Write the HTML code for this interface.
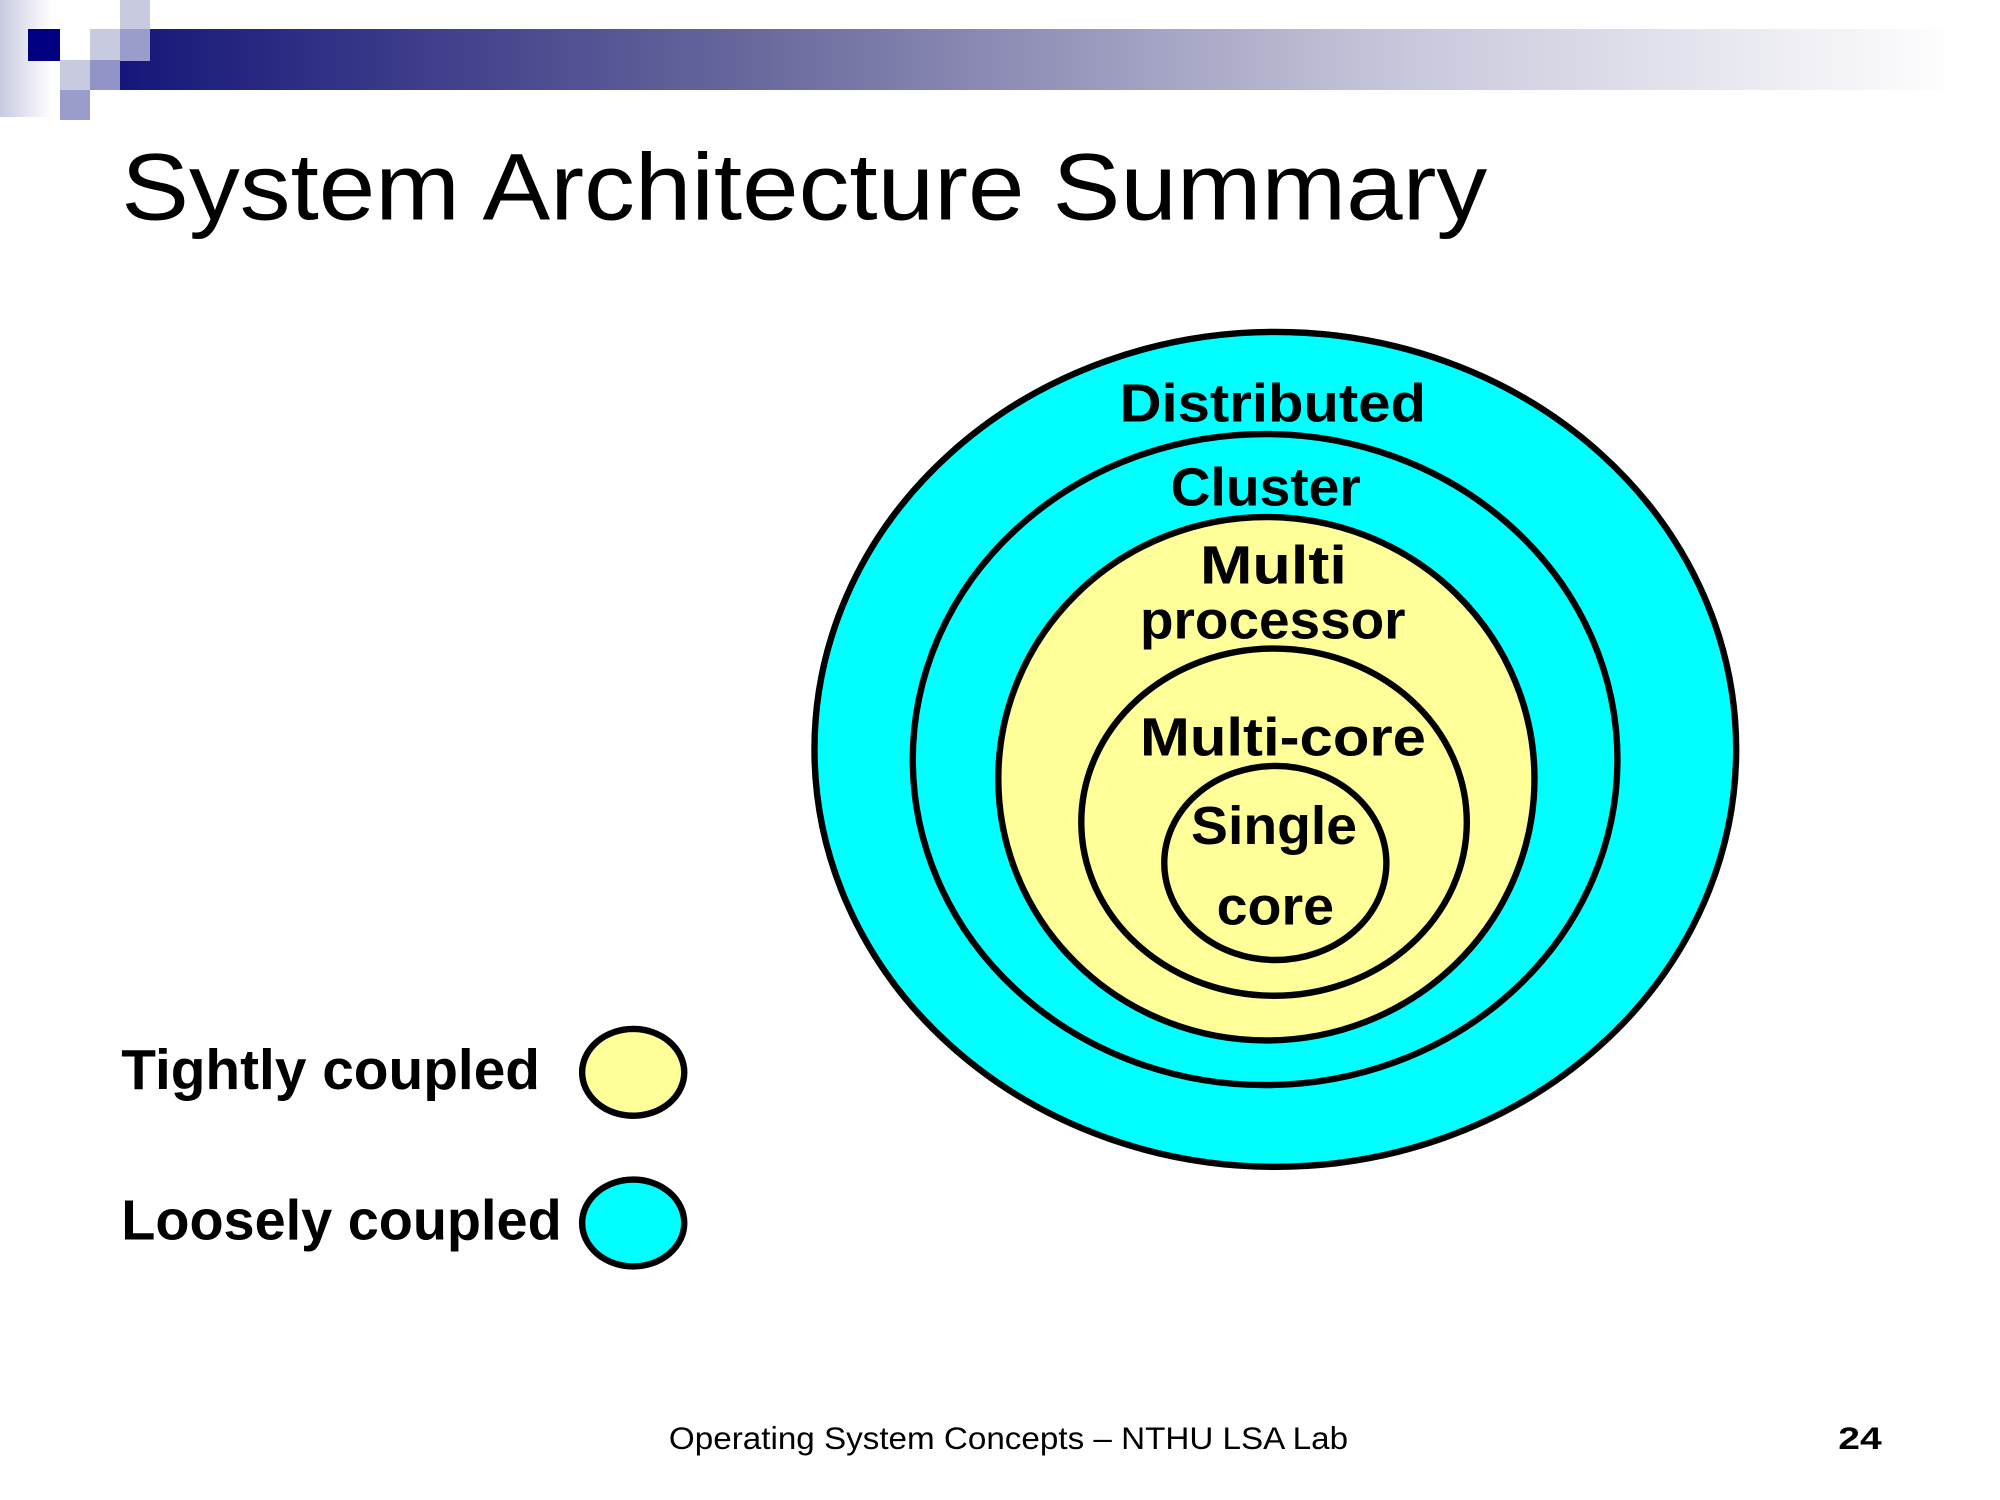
<!DOCTYPE html>
<html><head><meta charset="utf-8"><style>
html,body{margin:0;padding:0;background:#fff;}
svg{display:block;}
</style></head><body>
<svg width="2000" height="1500" viewBox="0 0 2000 1500" xmlns="http://www.w3.org/2000/svg">
<defs>
<linearGradient id="bar" x1="0" x2="1" y1="0" y2="0">
<stop offset="0" stop-color="#16167a"/>
<stop offset="0.35" stop-color="#6a6a9e"/>
<stop offset="0.7" stop-color="#c8c8dc"/>
<stop offset="1" stop-color="#ffffff"/>
</linearGradient>
<linearGradient id="lstrip" x1="0" x2="1" y1="0" y2="0">
<stop offset="0" stop-color="#c8cae0"/>
<stop offset="1" stop-color="#ffffff"/>
</linearGradient>
</defs>
<rect x="0" y="0" width="52" height="117" fill="url(#lstrip)"/>
<rect x="120" y="29" width="1840" height="61" fill="url(#bar)"/>
<rect x="28" y="29" width="32" height="32" fill="#000080"/>
<rect x="60" y="60" width="30" height="30" fill="#c8cae0"/>
<rect x="60" y="90" width="30" height="30" fill="#9a9ccc"/>
<rect x="90" y="29" width="30" height="31" fill="#c8cae0"/>
<rect x="90" y="60" width="30" height="30" fill="#9294c8"/>
<rect x="120" y="0" width="30" height="29" fill="#c8cae0"/>
<rect x="120" y="29" width="30" height="32" fill="#9a9ccc"/>
<g transform="scale(1.2766)">
<text x="95" y="172" font-family="Liberation Sans, sans-serif" font-size="74" textLength="1070" lengthAdjust="spacingAndGlyphs" fill="#000">System Architecture Summary</text>
<g stroke="#000" stroke-width="5">
<ellipse cx="999" cy="587" rx="361" ry="327" fill="#00ffff"/>
<ellipse cx="991" cy="595" rx="276" ry="255" fill="#00ffff"/>
<ellipse cx="992" cy="610" rx="210" ry="205" fill="#ffff99"/>
<ellipse cx="998" cy="644" rx="151" ry="136" fill="#ffff99"/>
<ellipse cx="999" cy="676" rx="87" ry="76" fill="#ffff99"/>
<ellipse cx="496" cy="840" rx="40" ry="34" fill="#ffff99"/>
<ellipse cx="496" cy="958" rx="40" ry="34" fill="#00ffff"/>
</g>
<g font-family="Liberation Sans, sans-serif" font-weight="bold" font-size="42" fill="#000">
<text x="877" y="330" textLength="240" lengthAdjust="spacingAndGlyphs">Distributed</text>
<text x="917" y="396" textLength="149" lengthAdjust="spacingAndGlyphs">Cluster</text>
<text x="940" y="457" textLength="115" lengthAdjust="spacingAndGlyphs">Multi</text>
<text x="893" y="500" textLength="208" lengthAdjust="spacingAndGlyphs">processor</text>
<text x="893" y="592" textLength="224" lengthAdjust="spacingAndGlyphs">Multi-core</text>
<text x="933" y="661" textLength="130" lengthAdjust="spacingAndGlyphs">Single</text>
<text x="953" y="724" textLength="92" lengthAdjust="spacingAndGlyphs">core</text>
<text x="95" y="853" font-size="44" textLength="328" lengthAdjust="spacingAndGlyphs">Tightly coupled</text>
<text x="95" y="971" font-size="44" textLength="345" lengthAdjust="spacingAndGlyphs">Loosely coupled</text>
</g>
<text x="524" y="1135" font-family="Liberation Sans, sans-serif" font-size="25" textLength="532" lengthAdjust="spacingAndGlyphs" fill="#000">Operating System Concepts – NTHU LSA Lab</text>
<text x="1440" y="1135" font-family="Liberation Sans, sans-serif" font-weight="bold" font-size="25" textLength="34" lengthAdjust="spacingAndGlyphs" fill="#000">24</text>
</g>
</svg>
</body></html>
